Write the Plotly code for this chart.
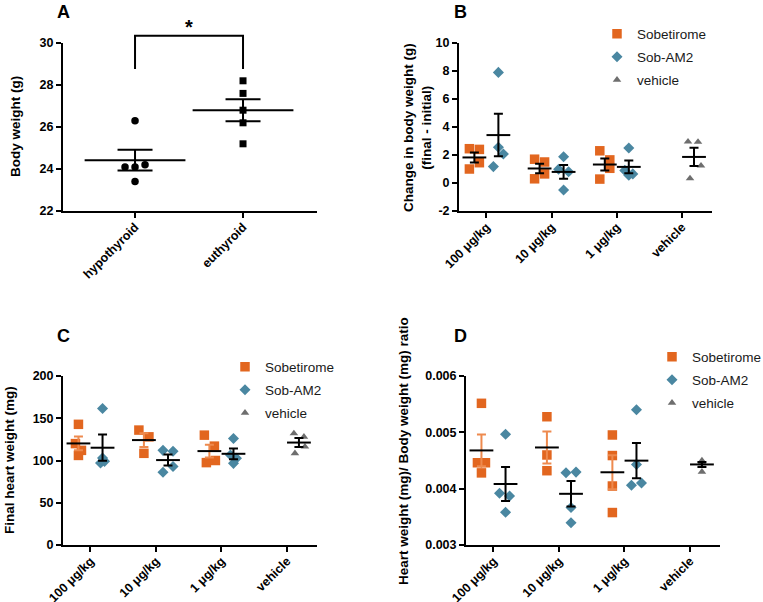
import numpy as np
import plotly.graph_objects as go

# ---------------- data ----------------
a_groups = ["hypothyroid", "euthyroid"]
a_hypothyroid = [26.3, 24.1, 24.1, 24.2, 23.4]
a_euthyroid = [28.2, 27.6, 26.8, 26.2, 25.2]

dose_groups = ["100 μg/kg", "10 μg/kg", "1 μg/kg", "vehicle"]
series_names = ["Sobetirome", "Sob-AM2", "vehicle"]

b_sobetirome = [[2.45, 2.4, 1.45, 1.0], [1.7, 1.5, 0.3, 0.65], [2.3, 1.65, 1.05, 0.28]]
b_sobam2 = [[7.9, 2.55, 1.17, 2.07], [1.88, 0.98, 0.81, -0.5], [2.5, 0.9, 0.65, 0.55]]
b_vehicle = [2.95, 2.93, 1.24, 0.33]

c_sobetirome = [[142.8, 120, 112, 106], [136, 128, 108.5], [130, 117, 97.5, 100]]
c_sobam2 = [[161.5, 103, 97, 99], [112, 111, 86, 93], [126, 106.5, 96.6, 102.6]]
c_vehicle = [132, 128, 108.5, 116.4]

d_sobetirome = [[0.005515, 0.00446, 0.00446, 0.00428],
                [0.005277, 0.004598, 0.004319],
                [0.004953, 0.004588, 0.004047, 0.003576]]
d_sobam2 = [[0.004965, 0.003918, 0.00387, 0.00358],
            [0.004282, 0.004294, 0.003665, 0.003394],
            [0.0054, 0.00443, 0.00406, 0.0041]]
d_vehicle = [0.0045, 0.00447, 0.00445, 0.0043]

a_yticks = [22, 24, 26, 28, 30]
b_yticks = [-2, 0, 2, 4, 6, 8, 10]
c_yticks = [0, 50, 100, 150, 200]
d_yticks = [0.003, 0.004, 0.005, 0.006]

# ---------------- styling (horizontal scatter spread, in px) ----------------
a_hypo_jit = [0, -10, 0, 10, 0]
a_eu_jit = [0, 0, 0, 0, 0]
b_sob_jit = [[-5, 5, 5, -5], [-5, 5, -5, 5], [-5, 5, 5, -5]]
b_am2_jit = [[0, 0, -5, 5], [0, -5, 5, 0], [0, -4, 4, 0]]
b_veh_jit = [-6, 4, 7, -4]
c_sob_jit = [[0, -3, 3, 0], [-5, 5, 0], [-5, 5, -3, 6]]
c_am2_jit = [[0, 0, -2, 2], [-5, 5, -5, 5], [0, -3, 0, 3]]
c_veh_jit = [-5, 5, -4, 6]
d_sob_jit = [[0, -4, 4, 0], [0, 0, 0], [0, 0, 0, 0]]
d_am2_jit = [[0, -6, 4, 0], [-5, 5, 0, 0], [0, 0, -5, 5]]
d_veh_jit = [0, 0, 0, 0]

W, H = 763, 602
FONT = "Liberation Sans, Arial, sans-serif"
ORANGE = "#E2661F"
SEM_ORANGE = "#EE8A4E"
BLUE = "#4A87A1"
GRAY = "#6E6E6E"

A_RANGE = [-0.667, 1.685]
CAT_RANGE = [-0.42, 3.46]
PPU_A = 254 / (A_RANGE[1] - A_RANGE[0])
PPU = 253 / (CAT_RANGE[1] - CAT_RANGE[0])
OFF = 12  # px offset of series from group centre


def fx(p):
    return p / W


def fy(p):
    return 1 - p / H


def mean_sem(v):
    a = np.asarray(v, float)
    return a.mean(), a.std(ddof=1) / np.sqrt(len(a))


fig = go.Figure()


def add_points(xa, ya, positions, values, jitters, ppu, color, symbol, size,
               name=None, legend=None, showlegend=False):
    xs, ys = [], []
    for pos, vals, jit in zip(positions, values, jitters):
        for v, j in zip(vals, jit):
            xs.append(pos + j / ppu)
            ys.append(v)
    fig.add_trace(go.Scatter(
        x=xs, y=ys, mode="markers", xaxis=xa, yaxis=ya, name=name,
        legend=legend if legend else "legend",
        legendgroup=(name or "") + (legend or ""),
        showlegend=showlegend, cliponaxis=False, hoverinfo="skip",
        marker=dict(color=color, symbol=symbol, size=size, line=dict(width=0))))


def add_mean_sem(xa, ya, positions, values, mean_w, cap_w, sem_color="black"):
    ms = [mean_sem(v) for v in values]
    fig.add_trace(go.Scatter(
        x=positions, y=[m for m, _ in ms], mode="markers", xaxis=xa, yaxis=ya,
        showlegend=False, cliponaxis=False, hoverinfo="skip",
        marker=dict(symbol="line-ew", size=mean_w, color="black",
                    line=dict(width=2, color="black")),
        error_y=dict(type="data", array=[s for _, s in ms], visible=True,
                     color=sem_color, thickness=2, width=cap_w)))


# ---- Panel A ----
add_points("x", "y", [0], [a_hypothyroid], [a_hypo_jit], PPU_A, "black", "circle", 7.5)
add_points("x", "y", [1], [a_euthyroid], [a_eu_jit], PPU_A, "black", "square", 7)
add_mean_sem("x", "y", [0, 1], [a_hypothyroid, a_euthyroid], 72, 17.5)


# ---- Panels B, C, D ----
def dose_panel(xa, ya, sob, am2, veh, sob_j, am2_j, veh_j, legend, sob_sem_color):
    o = OFF / PPU
    add_points(xa, ya, [i - o for i in range(3)], sob, sob_j, PPU, ORANGE, "square", 9.5,
               series_names[0], legend, True)
    add_points(xa, ya, [i + o for i in range(3)], am2, am2_j, PPU, BLUE, "diamond", 8.5,
               series_names[1], legend, True)
    add_points(xa, ya, [3 + o], [veh], [veh_j], PPU, GRAY, "triangle-up", 7.5,
               series_names[2], legend, True)
    add_mean_sem(xa, ya, [i - o for i in range(3)], sob, 17, 4.5, sob_sem_color)
    add_mean_sem(xa, ya, [i + o for i in range(3)], am2, 17, 4.5)
    add_mean_sem(xa, ya, [3 + o], [veh], 17, 4.5)


dose_panel("x2", "y2", b_sobetirome, b_sobam2, b_vehicle, b_sob_jit, b_am2_jit, b_veh_jit,
           "legend", "black")
dose_panel("x3", "y3", c_sobetirome, c_sobam2, c_vehicle, c_sob_jit, c_am2_jit, c_veh_jit,
           "legend2", SEM_ORANGE)
dose_panel("x4", "y4", d_sobetirome, d_sobam2, d_vehicle, d_sob_jit, d_am2_jit, d_veh_jit,
           "legend3", SEM_ORANGE)

# ---------------- axes ----------------
tickfont = dict(family=FONT, size=12.5, color="black", weight="bold")
common = dict(showline=True, linewidth=2, linecolor="black", ticks="outside", ticklen=5,
              tickwidth=2, tickcolor="black", showgrid=False, zeroline=False,
              tickfont=tickfont, fixedrange=True, automargin=False)
xcommon = dict(common, tickangle=-45, ticklabelstandoff=-3)

top = [fy(211), fy(43)]
bot = [fy(545), fy(376)]

fig.update_layout(
    xaxis=dict(xcommon, domain=[fx(63), fx(317)], range=A_RANGE, anchor="y",
               tickvals=[0, 1], ticktext=a_groups),
    yaxis=dict(common, domain=top, range=[22, 30], anchor="x",
               tickvals=a_yticks, ticktext=[str(t) for t in a_yticks]),
    xaxis2=dict(xcommon, domain=[fx(459), fx(712)], range=CAT_RANGE, anchor="y2",
                tickvals=[0, 1, 2, 3], ticktext=dose_groups),
    yaxis2=dict(common, domain=top, range=[-2, 10], anchor="x2",
                tickvals=b_yticks, ticktext=[str(t) for t in b_yticks]),
    xaxis3=dict(xcommon, domain=[fx(63), fx(317)], range=CAT_RANGE, anchor="y3",
                tickvals=[0, 1, 2, 3], ticktext=dose_groups),
    yaxis3=dict(common, domain=bot, range=[0, 200], anchor="x3",
                tickvals=c_yticks, ticktext=[str(t) for t in c_yticks]),
    xaxis4=dict(xcommon, domain=[fx(466), fx(720)], range=CAT_RANGE, anchor="y4",
                tickvals=[0, 1, 2, 3], ticktext=dose_groups),
    yaxis4=dict(common, domain=bot, range=[0.003, 0.006], anchor="x4",
                tickvals=d_yticks, ticktext=["%.3f" % t for t in d_yticks]),
)

legend_common = dict(xanchor="left", yanchor="top", bgcolor="rgba(0,0,0,0)",
                     font=dict(family=FONT, size=13.5, color="#1a1a1a"),
                     tracegroupgap=2.5, itemclick=False, itemdoubleclick=False)
fig.update_layout(
    legend=dict(legend_common, x=fx(597), y=fy(18.4)),
    legend2=dict(legend_common, x=fx(225), y=fy(351.4)),
    legend3=dict(legend_common, x=fx(652), y=fy(341.4)),
)

# ---------------- significance bracket (panel A) ----------------
bracket_top, bracket_bottom = 30.35, 28.76


def ydom(v):
    return (v - 22) / (30 - 22)


fig.add_shape(type="path", xref="x", yref="y domain",
              path=f"M 0,{ydom(bracket_bottom)} L 0,{ydom(bracket_top)} "
                   f"L 1,{ydom(bracket_top)} L 1,{ydom(bracket_bottom)}",
              line=dict(color="black", width=2))
fig.add_annotation(x=0.5, xref="x", y=1.17, yref="y domain", text="*", showarrow=False,
                   font=dict(family=FONT, size=20, color="black", weight="bold"))

# ---------------- titles / panel letters ----------------
title_font = dict(family=FONT, size=13.5, color="black", weight="bold")
letter_font = dict(family=FONT, size=18, color="black", weight="bold")
ann = [
    ("A", 63, 12, letter_font, 0), ("B", 460, 12, letter_font, 0),
    ("C", 63, 336, letter_font, 0), ("D", 460, 336, letter_font, 0),
    ("Body weight (g)", 15, 127, title_font, -90),
    ("Change in body weight (g)<br>(final - initial)", 417, 127, title_font, -90),
    ("Final heart weight (mg)", 9, 460, title_font, -90),
    ("Heart weight (mg)/ Body weight (mg) ratio", 403, 451, title_font, -90),
]
for text, px, py, f, ang in ann:
    fig.add_annotation(x=fx(px), y=fy(py), xref="paper", yref="paper", text=text,
                       showarrow=False, font=f, textangle=ang,
                       xanchor="center", yanchor="middle")

fig.update_layout(width=W, height=H, margin=dict(l=0, r=0, t=0, b=0, autoexpand=False),
                  paper_bgcolor="white", plot_bgcolor="white", showlegend=True)

fig.write_html("out.html", config={"displayModeBar": False},
               post_script="document.body.style.margin='0';document.body.style.overflow='hidden';")
